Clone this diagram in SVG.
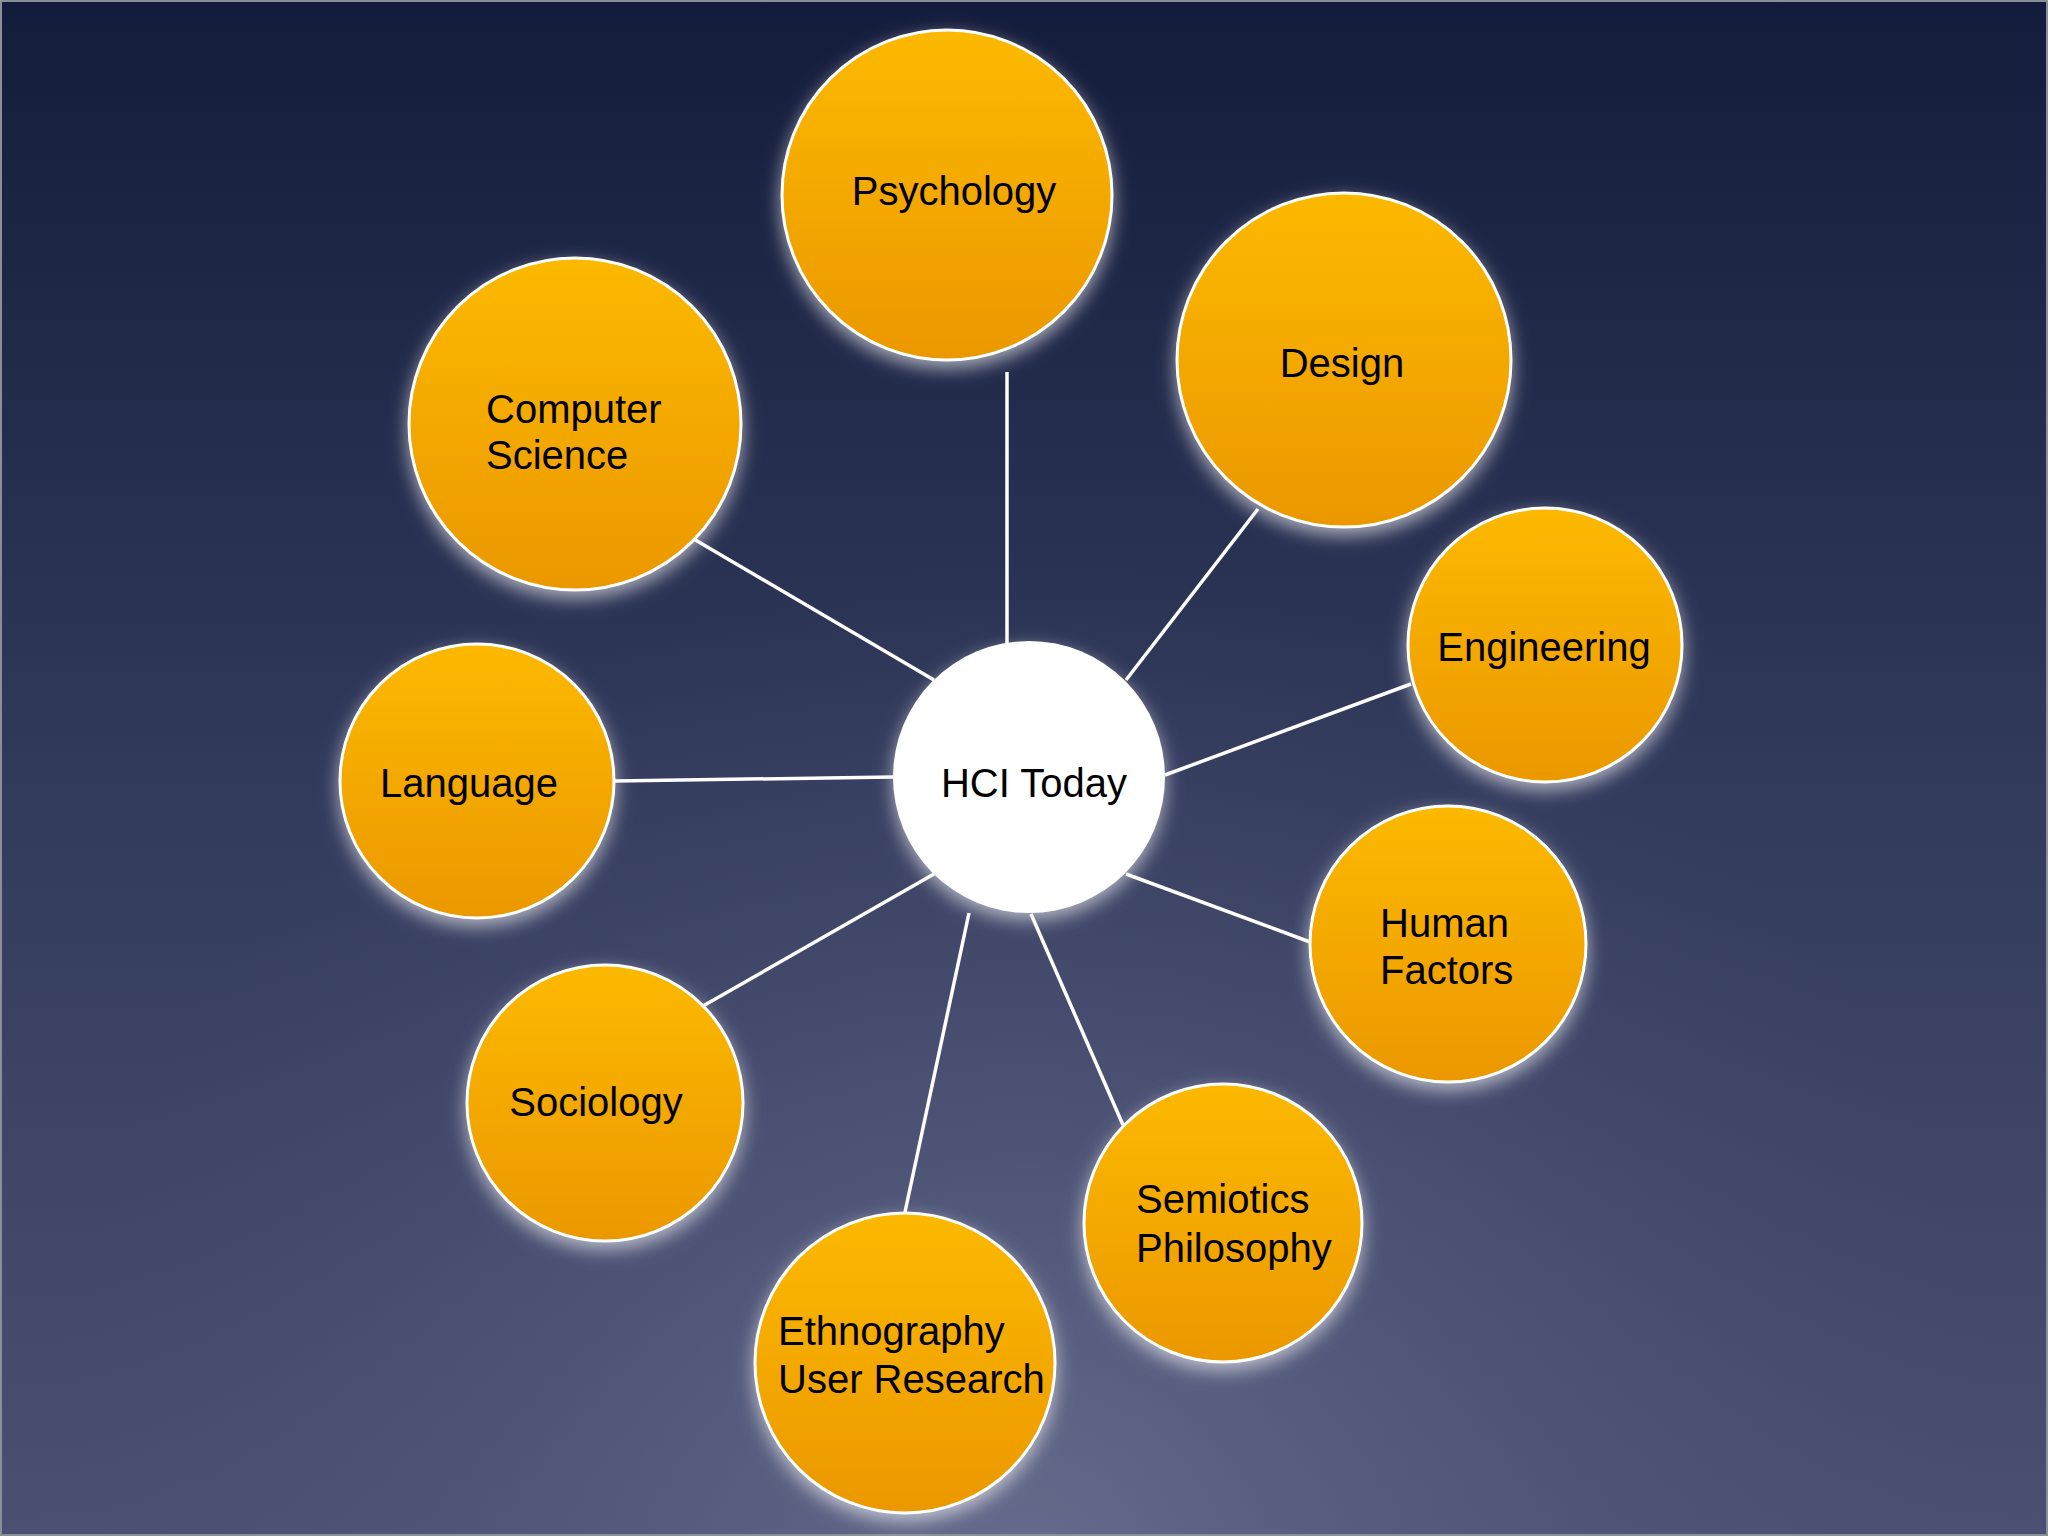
<svg xmlns="http://www.w3.org/2000/svg" width="2048" height="1536" viewBox="0 0 2048 1536">
<defs>
<linearGradient id="bgl" x1="0" y1="0" x2="0" y2="1">
<stop offset="0" stop-color="#141c3b"/>
<stop offset="0.5" stop-color="#323a5c"/>
<stop offset="1" stop-color="#4a5072"/>
</linearGradient>
<radialGradient id="bgr" gradientUnits="userSpaceOnUse" cx="1024" cy="1560" r="1000">
<stop offset="0" stop-color="#6a7090" stop-opacity="0.85"/>
<stop offset="0.6" stop-color="#5a6082" stop-opacity="0.3"/>
<stop offset="1" stop-color="#4a5072" stop-opacity="0"/>
</radialGradient>
<linearGradient id="orange" x1="0" y1="0" x2="0" y2="1">
<stop offset="0" stop-color="#fcb900"/>
<stop offset="1" stop-color="#eb9800"/>
</linearGradient>
<filter id="glow" x="-30%" y="-30%" width="160%" height="160%">
<feGaussianBlur in="SourceAlpha" stdDeviation="9"/>
<feOffset dy="7" result="b"/>
<feFlood flood-color="#ffffff" flood-opacity="0.6"/>
<feComposite in2="b" operator="in"/>
<feMerge><feMergeNode/><feMergeNode in="SourceGraphic"/></feMerge>
</filter>
<style>
.bub{fill:url(#orange);stroke:#ffffff;stroke-width:3;filter:url(#glow)}
.hub{fill:#ffffff;filter:url(#glow)}
.lbl{font-family:"Liberation Sans",Arial,sans-serif;font-size:40px;fill:#000000}
.conn line{stroke:#ffffff;stroke-width:3.5}
</style>
</defs>
<rect x="0" y="0" width="2048" height="1536" fill="url(#bgl)"/>
<rect x="0" y="0" width="2048" height="1536" fill="url(#bgr)"/>
<rect x="1" y="1" width="2046" height="1534" fill="none" stroke="#8a9098" stroke-width="2"/>
<g id="connectors" class="conn">
<line x1="1007" y1="372" x2="1007" y2="643"/>
<line x1="1258" y1="509" x2="1126" y2="680"/>
<line x1="692" y1="538" x2="934" y2="680"/>
<line x1="1411" y1="684" x2="1165" y2="775"/>
<line x1="615" y1="781" x2="893" y2="777"/>
<line x1="1310" y1="942" x2="1126" y2="874"/>
<line x1="703" y1="1006" x2="934" y2="874"/>
<line x1="1123" y1="1125" x2="1031" y2="914"/>
<line x1="905" y1="1212" x2="969" y2="913"/>
</g>
<g id="psychology">
<circle class="bub" cx="947" cy="195" r="165"/>
<text class="lbl" x="954" y="205" text-anchor="middle">Psychology</text>
</g>
<g id="design">
<circle class="bub" cx="1344" cy="360" r="167"/>
<text class="lbl" x="1342" y="377" text-anchor="middle">Design</text>
</g>
<g id="computer-science">
<circle class="bub" cx="575" cy="424" r="166"/>
<text class="lbl" x="486" y="423">Computer</text>
<text class="lbl" x="486" y="469">Science</text>
</g>
<g id="engineering">
<circle class="bub" cx="1545" cy="645" r="137"/>
<text class="lbl" x="1544" y="661" text-anchor="middle">Engineering</text>
</g>
<g id="language">
<circle class="bub" cx="477" cy="781" r="137"/>
<text class="lbl" x="469" y="797" text-anchor="middle">Language</text>
</g>
<g id="hci-today">
<circle class="hub" cx="1029" cy="777" r="136"/>
<text class="lbl" x="1034" y="797" text-anchor="middle">HCI Today</text>
</g>
<g id="human-factors">
<circle class="bub" cx="1448" cy="944" r="138"/>
<text class="lbl" x="1380" y="937">Human</text>
<text class="lbl" x="1380" y="984">Factors</text>
</g>
<g id="sociology">
<circle class="bub" cx="605" cy="1103" r="138"/>
<text class="lbl" x="596" y="1116" text-anchor="middle">Sociology</text>
</g>
<g id="semiotics-philosophy">
<circle class="bub" cx="1223" cy="1223" r="139"/>
<text class="lbl" x="1136" y="1213">Semiotics</text>
<text class="lbl" x="1136" y="1262">Philosophy</text>
</g>
<g id="ethnography-user-research">
<circle class="bub" cx="905" cy="1363" r="150"/>
<text class="lbl" x="778" y="1345">Ethnography</text>
<text class="lbl" x="778" y="1393">User Research</text>
</g>
</svg>
